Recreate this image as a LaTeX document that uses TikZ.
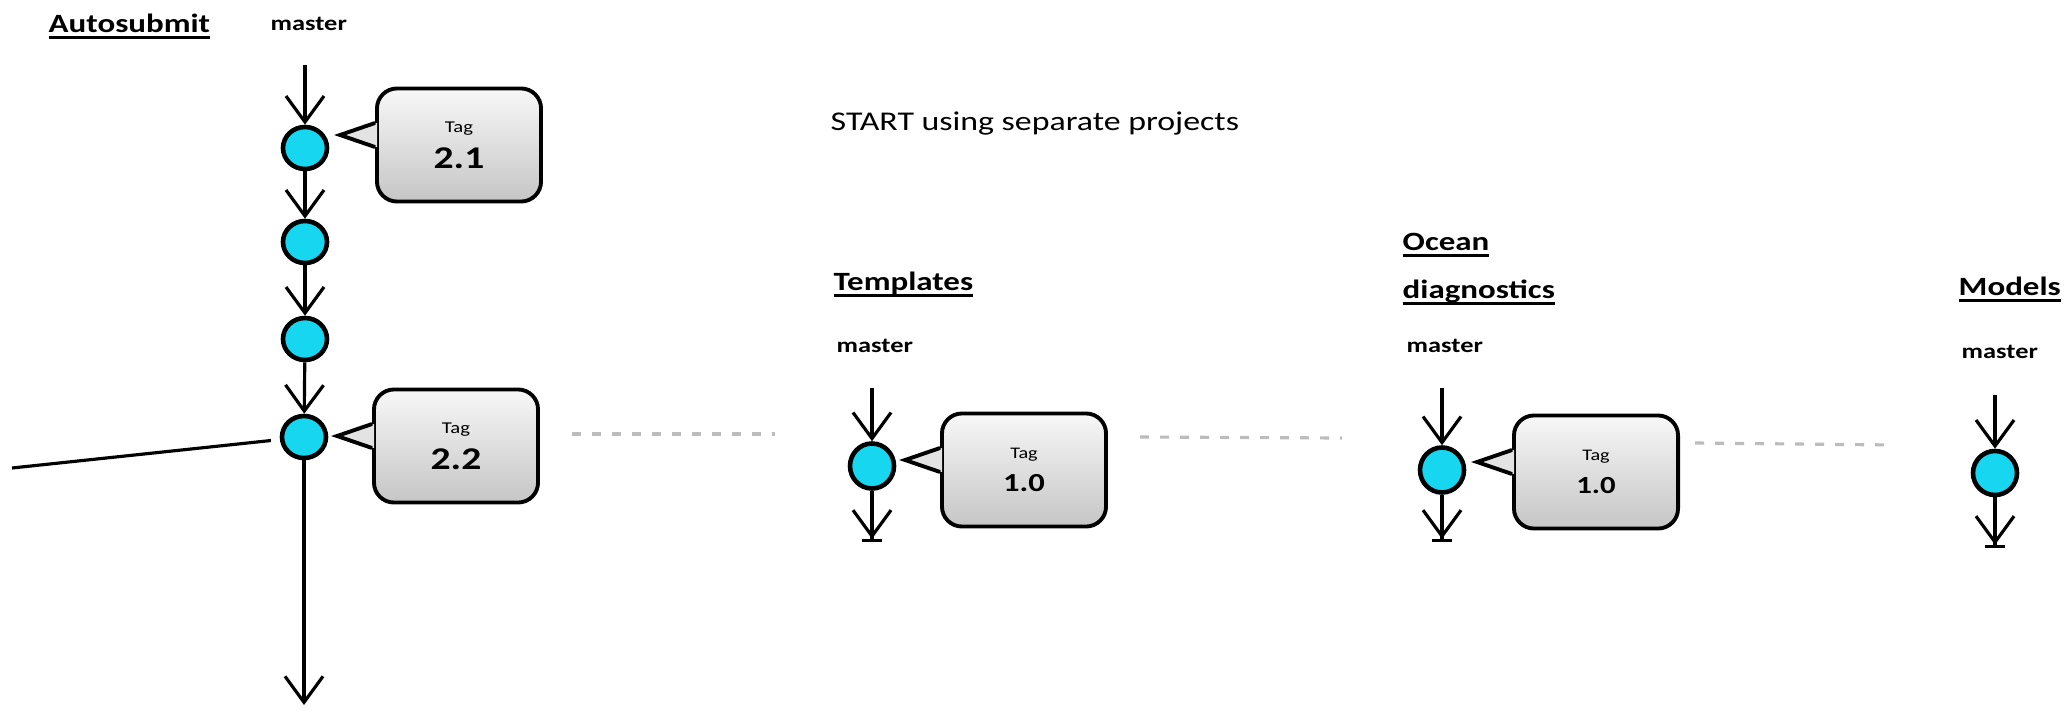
\documentclass[tikz,border=0pt]{standalone}
\usepackage{fontspec}
\setmainfont{Carlito}[FakeStretch=1.25]
\usepackage{tikz}
\usetikzlibrary{shapes.geometric,arrows.meta,positioning,calc}

\definecolor{commitblue}{RGB}{22,214,240}
\definecolor{sepgray}{RGB}{188,188,188}

% underlined heading text
\newcommand{\hdline}[1]{\setbox0\hbox{#1}\rlap{\vrule width\wd0 height -1.1pt depth 1.9pt}\box0}

% pointer of a tag bubble, drawn over the box edge
\newcommand{\tagpointer}[1]{%
  \fill[gray!22] ([shift={(2,-22)}]#1.west) -- ([shift={(-35,-10)}]#1.west) -- ([shift={(2,2)}]#1.west) -- cycle;
  \draw[line width=1.1pt] ([shift={(0,-22)}]#1.west) -- ([shift={(-35,-10)}]#1.west) -- ([shift={(0,2)}]#1.west);
}

\begin{document}
\begin{tikzpicture}[x=0.01cm, y=-0.01cm,
    commit/.style={ellipse, draw, line width=1.3pt, fill=commitblue, inner sep=0pt, minimum width=0.44cm, minimum height=0.42cm},
    flow/.style={line width=0.9pt, -{Straight Barb[length=0.26cm, width=0.38cm]}},
    stub/.style={line width=0.9pt, -{Straight Barb[length=0.26cm, width=0.38cm] Bar[width=0.2cm]}},
    tagbox/.style={draw, line width=1.1pt, rounded corners=0.2cm, top color=gray!6, bottom color=gray!45, minimum width=1.64cm, minimum height=1.13cm, inner sep=0pt, align=center, font=\fontsize{9}{10.2}\selectfont},
    heading/.style={anchor=base west, inner sep=0pt, font=\fontsize{7.5}{9}\selectfont\bfseries},
    branch/.style={anchor=base west, inner sep=0pt, font=\fontsize{6}{7}\selectfont\bfseries},
    separator/.style={line width=0.9pt, sepgray, dash pattern=on 0.09cm off 0.11cm}]

    \useasboundingbox (0,0) rectangle (2070,709);

    % Titles
    \node [heading] (autosubmit) at (48,32) {\hdline{Autosubmit}};
    \node [branch] (amaster) at (270,30) {master};
    \node [anchor=base west, inner sep=0pt, font=\fontsize{7.7}{9}\selectfont] (start) at (830,130) {START using separate projects};
    \node [heading] (templates) at (833,290) {\hdline{Templates}};
    \node [branch] (tmaster) at (836,352) {master};
    \node [heading] (ocean) at (1402,250) {\hdline{Ocean}};
    \node [heading] (oceandiag) at (1402,298) {\hdline{diagnostics}};
    \node [branch] (omaster) at (1406,352) {master};
    \node [heading] (models) at (1958,295) {\hdline{Models}};
    \node [branch] (mmaster) at (1961,358) {master};

    % Autosubmit commits
    \coordinate (atop) at (305,65);
    \node [commit] (a1) at (305,148) {};
    \node [commit] (a2) at (305,242) {};
    \node [commit] (a3) at (305,339) {};
    \node [commit] (a4) at (304,437) {};
    \coordinate (abottom) at (304,705);
    \coordinate (feed) at (12,468);

    \draw [flow] (atop) -- (a1);
    \draw [flow] (a1) -- (a2);
    \draw [flow] (a2) -- (a3);
    \draw [flow] (a3) -- (a4);
    \draw [flow] (a4) -- (abottom);
    \draw [line width=0.9pt, shorten >=0.09cm] (feed) -- (a4);

    % Autosubmit tags
    \node [tagbox] (tag21) at (459,145) {{\fontsize{4.7}{5}\selectfont Tag}\\\textbf{2.1}};
    \node [tagbox] (tag22) at (456,446) {{\fontsize{4.7}{5}\selectfont Tag}\\\textbf{2.2}};
    \tagpointer{tag21}
    \tagpointer{tag22}

    % Templates
    \coordinate (ttop) at (872,388);
    \node [commit, minimum height=0.45cm] (t1) at (872,466) {};
    \coordinate (tbottom) at (872,542);
    \draw [flow] (ttop) -- (t1);
    \draw [stub] (t1) -- (tbottom);
    \node [tagbox, font=\fontsize{7.4}{9.6}\selectfont] (tagt) at (1024,470) {{\fontsize{4.6}{5}\selectfont Tag}\\\textbf{1.0}};
    \tagpointer{tagt}

    % Ocean diagnostics
    \coordinate (otop) at (1442,388);
    \node [commit, minimum height=0.45cm] (o1) at (1442,470) {};
    \coordinate (obottom) at (1442,542);
    \draw [flow] (otop) -- (o1);
    \draw [stub] (o1) -- (obottom);
    \node [tagbox, font=\fontsize{7}{9.6}\selectfont] (tago) at (1596,472) {{\fontsize{4.6}{5}\selectfont Tag}\\\textbf{1.0}};
    \tagpointer{tago}

    % Models
    \coordinate (mtop) at (1995,395);
    \node [commit, minimum height=0.44cm] (m1) at (1995,473) {};
    \coordinate (mbottom) at (1995,548);
    \draw [flow] (mtop) -- (m1);
    \draw [stub] (m1) -- (mbottom);

    % Separators
    \coordinate (s1a) at (572,434);
    \coordinate (s1b) at (775,434);
    \coordinate (s2a) at (1140,437);
    \coordinate (s2b) at (1342,438);
    \coordinate (s3a) at (1695,443);
    \coordinate (s3b) at (1895,445);
    \draw [separator] (s1a) -- (s1b);
    \draw [separator] (s2a) -- (s2b);
    \draw [separator] (s3a) -- (s3b);

\end{tikzpicture}
\end{document}
